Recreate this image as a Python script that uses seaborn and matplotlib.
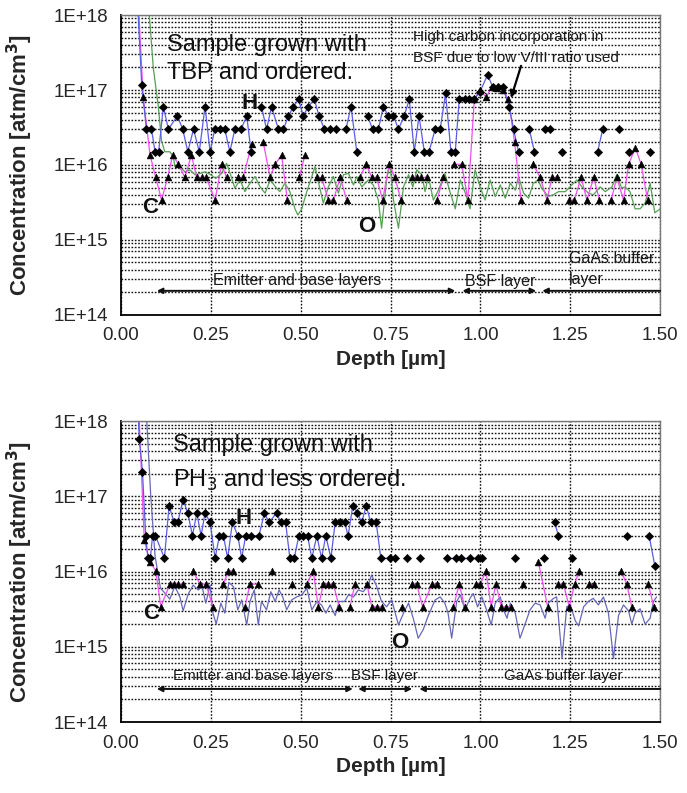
import numpy as np
import pandas as pd
import matplotlib
matplotlib.use("Agg")
import matplotlib.pyplot as plt
import seaborn as sns
from matplotlib.ticker import LogLocator, NullFormatter

# ---------------- top panel: sample grown with TBP (ordered) ----------------
# H (diamonds), concentration in units of 1E16 atm/cm3
h_top_depth = [0.043, 0.058, 0.071, 0.085, 0.095, 0.105, 0.118, 0.132, 0.157, 0.172,
               0.186, 0.202, 0.218, 0.234, 0.248, 0.261, 0.275, 0.289, 0.303, 0.317,
               0.334, 0.350, 0.362, 0.391, 0.405, 0.419, 0.438, 0.452, 0.466, 0.480,
               0.494, 0.507, 0.521, 0.538, 0.551, 0.566, 0.582, 0.597, 0.626, 0.640,
               0.656, 0.686, 0.700, 0.716, 0.730, 0.744, 0.758, 0.772, 0.788, 0.802,
               0.816, 0.829, 0.844, 0.857, 0.874, 0.888, 0.903, 0.918, 0.930, 0.941,
               0.956, 0.969, 0.983, 0.999, 1.020, 1.034, 1.048, 1.062, 1.080, 1.092,
               1.106, 1.136, 1.150, 1.180, 1.194, 1.226, 1.326, 1.340, 1.384, 1.412,
               1.472]
h_top_e16 = [300, 11.5, 3, 3, 1.5, 1.5, 6, 3, 4.5, 3,
             1.5, 3, 1.5, 6, 1.5, 3, 3, 3, 1.5, 3,
             3, 4.5, 1.5, 6, 3, 6, 3, 3, 4.5, 6,
             7.5, 4.5, 6, 7.5, 4.5, 3, 3, 3, 3, 6,
             1.5, 4.5, 3, 3, 6, 4.5, 4.5, 3, 4.5, 7.5,
             1.5, 4.5, 1.5, 1.5, 3, 3, 9, 1.5, 1.5, 7.5,
             7.5, 7.5, 7.5, 9.5, 16, 11, 11, 11, 6, 3,
             1.5, 3, 1.5, 3, 3, 1.5, 1.5, 3, 3, 1.5,
             1.5]

# C (triangles), units of 1E15 atm/cm3
c_top_depth = [0.045, 0.062, 0.081, 0.097, 0.113, 0.130, 0.144, 0.160, 0.178, 0.196,
               0.211, 0.225, 0.237, 0.262, 0.280, 0.294, 0.327, 0.340, 0.364, 0.396,
               0.415, 0.429, 0.447, 0.463, 0.496, 0.512, 0.545, 0.558, 0.577, 0.591,
               0.610, 0.628, 0.665, 0.682, 0.698, 0.711, 0.728, 0.746, 0.762, 0.779,
               0.809, 0.823, 0.836, 0.850, 0.879, 0.897, 0.926, 0.948, 0.965, 0.983,
               0.999, 1.016, 1.031, 1.045, 1.062, 1.078, 1.095, 1.113, 1.147, 1.166,
               1.185, 1.199, 1.212, 1.245, 1.261, 1.280, 1.296, 1.315, 1.331, 1.364,
               1.379, 1.398, 1.412, 1.431, 1.447, 1.465]
c_top_e15 = [3000, 80, 13.6, 6.8, 3.4, 6.8, 13.6, 10.2, 6.8, 13.6,
             6.8, 6.8, 6.8, 3.4, 10.2, 6.8, 6.8, 6.8, 19, 20,
             6.8, 10.2, 13.6, 3.4, 6.8, 13.6, 6.8, 6.8, 3.4, 3.4,
             6.8, 3.4, 6.8, 10.2, 6.8, 6.8, 3.4, 10.2, 6.8, 3.4,
             6.8, 6.8, 6.8, 6.8, 3.4, 6.8, 10.2, 10.2, 3.4, 75,
             100, 80, 110, 105, 100, 75, 20, 3.4, 10.2, 6.8,
             3.4, 6.8, 6.8, 3.4, 3.4, 6.8, 3.4, 6.8, 3.4, 3.4,
             6.8, 3.4, 10.2, 17, 10.2, 3.4]

# O (line only), units of 1E15 atm/cm3
o_top_depth = [0.070, 0.079, 0.090, 0.104, 0.113, 0.122, 0.136, 0.146, 0.150, 0.164,
               0.178, 0.192, 0.206, 0.220, 0.234, 0.250, 0.264, 0.280, 0.294, 0.305,
               0.317, 0.331, 0.345, 0.359, 0.373, 0.387, 0.401, 0.415, 0.430, 0.442,
               0.456, 0.470, 0.484, 0.492, 0.503, 0.517, 0.531, 0.540, 0.550, 0.563,
               0.577, 0.591, 0.605, 0.619, 0.633, 0.647, 0.656, 0.670, 0.688, 0.702,
               0.716, 0.725, 0.739, 0.748, 0.758, 0.772, 0.786, 0.800, 0.812, 0.823,
               0.837, 0.846, 0.855, 0.869, 0.883, 0.901, 0.915, 0.930, 0.944, 0.958,
               0.971, 0.985, 0.999, 1.013, 1.027, 1.041, 1.055, 1.069, 1.083, 1.097,
               1.106, 1.120, 1.134, 1.147, 1.161, 1.170, 1.189, 1.203, 1.217, 1.236,
               1.254, 1.268, 1.282, 1.300, 1.314, 1.333, 1.347, 1.366, 1.379, 1.393,
               1.402, 1.416, 1.430, 1.444, 1.458, 1.472, 1.485, 1.500]
o_top_e15 = [5000, 1000, 200, 60, 21, 15, 15, 12.9, 9.5, 9.5,
             8.1, 8.6, 7.4, 7.7, 8.1, 7.4, 6.6, 7.7, 10.5, 7.4,
             4.9, 6.3, 4.4, 5.7, 7.0, 5.1, 4.2, 6.3, 5.1, 4.4,
             5.7, 4.4, 2.6, 2.15, 2.6, 4.4, 7.0, 9.5, 5.7, 3.1,
             5.1, 7.0, 4.2, 7.4, 7.7, 5.4, 7.0, 5.1, 6.3, 5.4,
             3.4, 1.43, 6.3, 10.5, 3.4, 1.43, 5.1, 7.4, 5.1, 8.6,
             7.4, 4.4, 7.0, 3.4, 4.6, 7.7, 4.4, 2.6, 6.3, 4.2,
             2.6, 8.6, 5.1, 3.4, 6.3, 3.8, 5.4, 3.6, 5.7, 4.6,
             7.0, 4.2, 3.6, 5.7, 6.3, 4.9, 3.8, 4.0, 4.4, 4.4,
             5.4, 6.3, 5.1, 4.2, 4.0, 5.1, 4.4, 5.1, 7.4, 4.9,
             5.1, 4.4, 2.6, 2.6, 3.1, 5.7, 2.3, 2.6]

# ---------------- bottom panel: sample grown with PH3 (less ordered) ----------------
h_bot_depth = [0.045, 0.051, 0.060, 0.069, 0.075, 0.082, 0.088, 0.096, 0.121, 0.134,
               0.148, 0.158, 0.173, 0.186, 0.199, 0.211, 0.223, 0.234, 0.248, 0.262,
               0.274, 0.285, 0.297, 0.310, 0.325, 0.336, 0.347, 0.362, 0.384, 0.399,
               0.412, 0.433, 0.445, 0.458, 0.470, 0.482, 0.495, 0.507, 0.519, 0.531,
               0.545, 0.558, 0.570, 0.584, 0.596, 0.610, 0.622, 0.632, 0.645, 0.658,
               0.670, 0.682, 0.695, 0.710, 0.723, 0.749, 0.762, 0.795, 0.832, 0.906,
               0.931, 0.946, 0.971, 0.994, 1.005, 1.095, 1.176, 1.206, 1.217, 1.256,
               1.407, 1.469, 1.485]
h_bot_e16 = [300, 58, 21, 3, 1.5, 1.5, 3, 3, 1.5, 7.5,
             4.5, 4.5, 9, 6, 3, 6, 3, 6, 4.5, 1.5,
             3, 3, 1.5, 4.5, 3, 1.5, 3, 3, 3, 6,
             4.5, 6, 4.5, 4.5, 1.5, 1.5, 3, 3, 3, 1.5,
             3, 1.5, 3, 1.5, 4.5, 4.5, 4.5, 3, 7.5, 6,
             4.5, 7.5, 4.5, 4.5, 1.5, 1.5, 1.5, 1.5, 1.5, 1.5,
             1.5, 1.5, 1.5, 1.5, 1.5, 1.5, 1.5, 4.5, 3, 1.5,
             3, 3, 1.2]

c_bot_depth = [0.047, 0.065, 0.081, 0.097, 0.111, 0.136, 0.148, 0.160, 0.172, 0.200,
               0.220, 0.237, 0.255, 0.285, 0.299, 0.313, 0.345, 0.359, 0.382, 0.419,
               0.475, 0.517, 0.535, 0.549, 0.563, 0.577, 0.591, 0.607, 0.637, 0.651,
               0.684, 0.698, 0.712, 0.725, 0.781, 0.809, 0.823, 0.839, 0.865, 0.879,
               0.925, 0.941, 0.956, 0.987, 1.000, 1.015, 1.030, 1.043, 1.058, 1.071,
               1.086, 1.117, 1.161, 1.187, 1.217, 1.231, 1.247, 1.262, 1.275, 1.303,
               1.317, 1.391, 1.407, 1.421, 1.467, 1.482]
c_bot_e15 = [3000, 26, 13.6, 10.2, 3.4, 6.8, 6.8, 6.8, 6.8, 10.2,
             6.8, 6.8, 3.4, 6.8, 10.2, 10.2, 3.4, 6.8, 6.8, 10.2,
             6.8, 6.8, 10.2, 3.4, 6.8, 6.8, 6.8, 3.4, 3.4, 6.8,
             6.8, 3.4, 3.4, 3.4, 3.4, 6.8, 6.8, 3.4, 6.8, 6.8,
             3.4, 6.8, 3.4, 6.8, 6.8, 10.2, 3.4, 6.8, 3.4, 3.4,
             3.4, 6.8, 13.6, 3.4, 6.8, 6.8, 3.4, 6.8, 10.2, 6.8,
             6.8, 10.2, 6.8, 3.4, 6.8, 3.4]

o_bot_depth = [0.062, 0.072, 0.083, 0.095, 0.110, 0.122, 0.136, 0.150, 0.164, 0.173,
               0.187, 0.201, 0.215, 0.226, 0.236, 0.248, 0.256, 0.265, 0.278, 0.289,
               0.300, 0.313, 0.325, 0.336, 0.350, 0.359, 0.371, 0.382, 0.391, 0.405,
               0.417, 0.429, 0.440, 0.450, 0.461, 0.475, 0.489, 0.503, 0.517, 0.531,
               0.545, 0.558, 0.570, 0.582, 0.596, 0.607, 0.622, 0.633, 0.647, 0.660,
               0.674, 0.688, 0.697, 0.710, 0.725, 0.739, 0.753, 0.772, 0.786, 0.800,
               0.813, 0.827, 0.841, 0.855, 0.874, 0.888, 0.901, 0.910, 0.920, 0.934,
               0.944, 0.957, 0.971, 0.980, 0.992, 1.004, 1.018, 1.030, 1.041, 1.055,
               1.064, 1.074, 1.083, 1.097, 1.110, 1.124, 1.138, 1.152, 1.166, 1.180,
               1.189, 1.203, 1.212, 1.227, 1.240, 1.250, 1.264, 1.273, 1.287, 1.300,
               1.314, 1.328, 1.342, 1.356, 1.370, 1.384, 1.398, 1.412, 1.421, 1.430,
               1.444, 1.458, 1.472, 1.481, 1.490]
o_bot_e15 = [5000, 1000, 100, 16, 6.0, 5.2, 4.3, 6.4, 4.6, 3.0,
             5.0, 6.6, 5.7, 6.3, 3.8, 6.6, 2.8, 2.0, 3.8, 2.8,
             7.2, 6.3, 3.1, 4.2, 1.95, 4.0, 5.7, 1.95, 4.0, 3.1,
             5.4, 4.0, 5.7, 4.6, 3.1, 4.2, 4.6, 4.9, 6.0, 3.1,
             4.0, 3.6, 2.8, 3.6, 2.6, 4.0, 4.0, 4.9, 4.6, 5.7,
             5.4, 6.6, 9.0, 6.6, 4.0, 3.4, 4.2, 1.95, 2.8, 3.8,
             2.4, 1.3, 1.7, 2.6, 4.2, 4.6, 3.8, 2.8, 1.3, 4.0,
             4.9, 3.1, 4.4, 5.1, 3.4, 4.6, 3.0, 1.95, 3.8, 4.6,
             3.1, 2.4, 3.8, 2.8, 1.3, 2.0, 3.1, 3.8, 3.6, 2.4,
             3.8, 4.4, 4.6, 0.7, 3.4, 3.6, 2.2, 1.9, 3.4, 4.0,
             4.4, 3.6, 4.6, 2.8, 0.7, 2.6, 3.6, 3.0, 2.0, 2.8,
             3.2, 2.0, 2.4, 4.0, 4.6]

decades = [1e14, 1e15, 1e16, 1e17, 1e18]
decade_labels = ["1E+14", "1E+15", "1E+16", "1E+17", "1E+18"]
depth_ticks = [0.0, 0.25, 0.5, 0.75, 1.0, 1.25, 1.5]

H_COLOR = "#5c5ce6"
C_COLOR = "#f050f0"
O_TOP_COLOR = "#55a055"
O_BOT_COLOR = "#6767b8"

sns.set_theme(style="white")
plt.rcParams["font.family"] = ["Liberation Sans", "DejaVu Sans"]


def trace(ax, depth, conc, color, marker=None, size=16, gap=0.028):
    df = pd.DataFrame({"depth": depth, "conc": conc})
    # a missing SIMS channel breaks the line
    df["seg"] = np.concatenate([[0], np.cumsum(np.diff(df["depth"]) > gap)])
    sns.lineplot(data=df, x="depth", y="conc", units="seg", estimator=None, sort=False,
                 color=color, linewidth=0.9, ax=ax, legend=False)
    if marker:
        sns.scatterplot(data=df, x="depth", y="conc", marker=marker, color="black",
                        edgecolor="black", linewidth=0.4, s=size, ax=ax, legend=False, zorder=5)


def style_axes(ax):
    ax.set_yscale("log")
    ax.set_xlim(0, 1.5)
    ax.set_ylim(1e14, 1e18)
    ax.set_yticks(decades, labels=decade_labels)
    ax.yaxis.set_minor_locator(LogLocator(base=10, subs=np.arange(2, 10)))
    ax.yaxis.set_minor_formatter(NullFormatter())
    ax.set_xticks(depth_ticks, labels=[f"{t:.2f}" for t in depth_ticks])
    ax.tick_params(axis="both", which="major", direction="out", length=6, width=1,
                   labelsize=13.5, color="black", pad=3)
    ax.tick_params(axis="y", which="minor", length=0)
    grid = dict(color="#111111", linestyle=(0, (1.2, 1.2)), linewidth=1.0)
    ax.grid(True, axis="y", which="both", **grid)
    ax.grid(True, axis="x", which="major", **grid)
    for side in ("left", "bottom"):
        ax.spines[side].set_color("black")
        ax.spines[side].set_linewidth(1.3)
    for side in ("top", "right"):
        ax.spines[side].set_color("#777777")
        ax.spines[side].set_linewidth(1.0)


def layer_arrow(ax, x0, x1, y, style="<|-|>"):
    ax.annotate("", xy=(x1, y), xytext=(x0, y),
                arrowprops=dict(arrowstyle=style, color="#111111", lw=1.4,
                                mutation_scale=8, shrinkA=0, shrinkB=0))


fig = plt.figure(figsize=(6.87, 7.93), dpi=100)
ax_top = fig.add_axes([0.176, 0.603, 0.785, 0.378])
ax_bot = fig.add_axes([0.176, 0.0895, 0.785, 0.3795])

for ax in (ax_top, ax_bot):
    style_axes(ax)

# top panel
trace(ax_top, o_top_depth, np.array(o_top_e15) * 1e15, O_TOP_COLOR, gap=1.0)
trace(ax_top, c_top_depth, np.array(c_top_e15) * 1e15, C_COLOR, marker="^", size=24)
trace(ax_top, h_top_depth, np.array(h_top_e16) * 1e16, H_COLOR, marker="D", size=18)

# bottom panel
trace(ax_bot, o_bot_depth, np.array(o_bot_e15) * 1e15, O_BOT_COLOR, gap=1.0)
trace(ax_bot, c_bot_depth, np.array(c_bot_e15) * 1e15, C_COLOR, marker="^", size=24)
trace(ax_bot, h_bot_depth, np.array(h_bot_e16) * 1e16, H_COLOR, marker="D", size=18)

for ax in (ax_top, ax_bot):
    ax.set_xlim(0, 1.5)
    ax.set_ylim(1e14, 1e18)
    ax.set_xlabel("Depth [µm]", fontsize=15, fontweight="bold")
    ax.set_ylabel("Concentration [atm/cm$^\\mathbf{3}$]", fontsize=16, fontweight="bold")
    ax.yaxis.set_label_coords(-0.16, 0.5)

big = dict(fontsize=17, va="center", ha="left", color="#111111")
lbl = dict(fontsize=16, fontweight="bold", ha="center", va="center", color="#111111")
small = dict(fontsize=11.5, va="center", color="#1a1a1a")

# top annotations
ax_top.text(0.128, 4.0e17, "Sample grown with", **big)
ax_top.text(0.128, 1.69e17, "TBP and ordered.", **big)
ax_top.text(0.359, 6.7e16, "H", **lbl)
ax_top.text(0.081, 2.67e15, "C", **lbl)
ax_top.text(0.685, 1.49e15, "O", **lbl)
ax_top.text(0.813, 5.1e17, "High carbon incorporation in", ha="left", fontsize=11,
            va="center", color="#1a1a1a")
ax_top.text(0.813, 2.67e17, "BSF due to low V/III ratio used", ha="left", fontsize=11,
            va="center", color="#1a1a1a")
ax_top.annotate("", xy=(1.085, 7.8e16), xytext=(1.113, 2.1e17),
                arrowprops=dict(arrowstyle="-|>", color="black", lw=1.6,
                                mutation_scale=10, shrinkA=0, shrinkB=0))
ax_top.text(0.49, 2.84e14, "Emitter and base layers", ha="center", **small)
ax_top.text(1.055, 2.8e14, "BSF layer", ha="center", **small)
ax_top.text(1.247, 5.6e14, "GaAs buffer", ha="left", **small)
ax_top.text(1.247, 3.0e14, "layer", ha="left", **small)
layer_arrow(ax_top, 0.10, 0.93, 2.09e14)
layer_arrow(ax_top, 0.95, 1.155, 2.09e14)
layer_arrow(ax_top, 1.172, 1.5, 2.09e14, style="<|-")

# bottom annotations
ax_bot.text(0.146, 4.8e17, "Sample grown with", **big)
ax_bot.text(0.146, 1.64e17, "PH$_3$ and less ordered.", **big)
ax_bot.text(0.34, 5.1e16, "H", **lbl)
ax_bot.text(0.085, 2.8e15, "C", **lbl)
ax_bot.text(0.775, 1.13e15, "O", **lbl)
ax_bot.text(0.367, 4.1e14, "Emitter and base layers", ha="center", fontsize=11,
            va="center", color="#1a1a1a")
ax_bot.text(0.733, 4.1e14, "BSF layer", ha="center", fontsize=11, va="center", color="#1a1a1a")
ax_bot.text(1.23, 4.1e14, "GaAs buffer layer", ha="center", fontsize=11, va="center",
            color="#1a1a1a")
layer_arrow(ax_bot, 0.10, 0.645, 2.75e14)
layer_arrow(ax_bot, 0.66, 0.81, 2.75e14)
layer_arrow(ax_bot, 0.83, 1.5, 2.75e14, style="<|-")

fig.savefig("out.png", dpi=100)
